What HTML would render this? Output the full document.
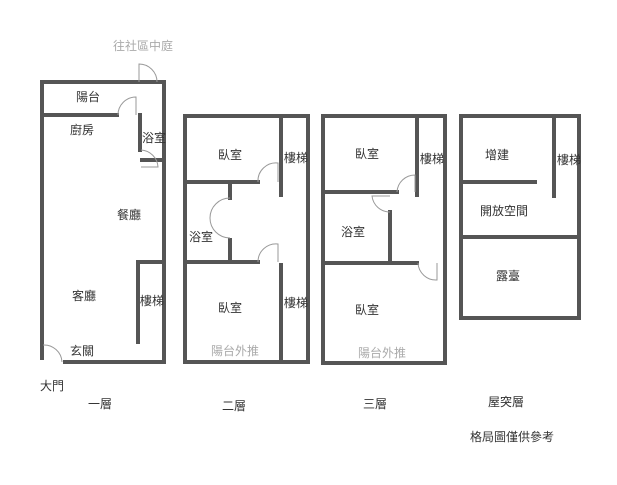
<!DOCTYPE html>
<html><head><meta charset="utf-8"><style>
body{margin:0;background:#fff}
svg text{font-family:"Liberation Sans","Noto Sans CJK TC",sans-serif;fill:#333;font-size:12px}
.g{fill:#aaa}
</style></head><body>
<svg width="617" height="480" viewBox="0 0 617 480" xmlns="http://www.w3.org/2000/svg">
<g stroke="#555" stroke-width="4" fill="none" stroke-linecap="square">
<polyline points="42,358 42,82 164,82 164,362 65,362"/>
<line x1="42" y1="115" x2="117" y2="115"/>
<line x1="140" y1="115" x2="140" y2="150"/>
<line x1="142" y1="160" x2="164" y2="160"/>
<line x1="138" y1="262" x2="138" y2="342"/>
<line x1="138" y1="262" x2="160" y2="262"/>
<rect x="185" y="116" width="123" height="246"/>
<line x1="281" y1="116" x2="281" y2="195"/>
<line x1="281" y1="265" x2="281" y2="362"/>
<line x1="185" y1="182" x2="258" y2="182"/>
<line x1="230" y1="182" x2="230" y2="198"/>
<line x1="230" y1="240" x2="230" y2="262"/>
<line x1="185" y1="262" x2="258" y2="262"/>
<rect x="323" y="116" width="122" height="247"/>
<line x1="417" y1="116" x2="417" y2="195"/>
<line x1="323" y1="192" x2="397" y2="192"/>
<line x1="390" y1="212" x2="390" y2="263"/>
<line x1="323" y1="263" x2="417" y2="263"/>
<rect x="461" y="116" width="118" height="202"/>
<line x1="554" y1="116" x2="554" y2="196"/>
<line x1="461" y1="182" x2="535" y2="182"/>
<line x1="461" y1="237" x2="579" y2="237"/>
</g>
<g stroke="#999" stroke-width="1" fill="none">
<path d="M139,82 L139,64 A18,18 0 0 1 157,82"/>
<path d="M118,115 A18,18 0 0 1 136,97 L136,115"/>
<path d="M141,150 A18,18 0 0 1 158,167 L141,167"/>
<path d="M43,345 A18,18 0 0 1 62,362"/>
<path d="M258,182 A18,18 0 0 1 278,163 L278,182"/>
<path d="M230,198 A20,20 0 0 0 230,238"/>
<path d="M258,262 A18,18 0 0 1 278,244 L278,262"/>
<path d="M397,192 A18,18 0 0 1 415,175 L415,192"/>
<path d="M390,212 A18,18 0 0 1 372,196 L390,196"/>
<path d="M418,263 A18,18 0 0 0 437,280 L437,263"/>
</g>
<text x="113" y="50" class="g" font-size="11">往社區中庭</text>
<text x="76" y="101">陽台</text>
<text x="70" y="134">廚房</text>
<text x="142" y="142" font-size="11">浴室</text>
<text x="117" y="219">餐廳</text>
<text x="72" y="300">客廳</text>
<text x="140" y="305" font-size="9">樓梯</text>
<text x="70" y="355">玄關</text>
<text x="40" y="390">大門</text>
<text x="88" y="408">一層</text>
<text x="222" y="410">二層</text>
<text x="218" y="159">臥室</text>
<text x="284" y="162" font-size="9">樓梯</text>
<text x="189" y="241">浴室</text>
<text x="218" y="312">臥室</text>
<text x="284" y="307" font-size="9">樓梯</text>
<text x="211" y="355" class="g" font-size="11">陽台外推</text>
<text x="355" y="158">臥室</text>
<text x="420" y="163" font-size="9">樓梯</text>
<text x="341" y="236">浴室</text>
<text x="355" y="314">臥室</text>
<text x="358" y="357" class="g" font-size="11">陽台外推</text>
<text x="363" y="408">三層</text>
<text x="485" y="159">增建</text>
<text x="557" y="164" font-size="9">樓梯</text>
<text x="480" y="215">開放空間</text>
<text x="496" y="280">露臺</text>
<text x="488" y="406">屋突層</text>
<text x="470" y="441">格局圖僅供參考</text>
</svg>
</body></html>
